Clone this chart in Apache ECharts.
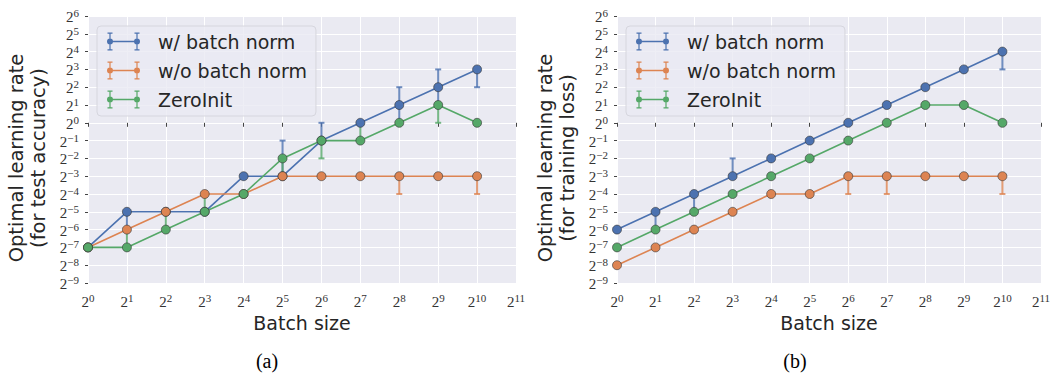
<!DOCTYPE html>
<html><head><meta charset="utf-8">
<script src="https://cdn.jsdelivr.net/npm/echarts@6/dist/echarts.min.js"></script>
<style>html,body{margin:0;padding:0;background:#fff}#c{width:1053px;height:373px}</style>
</head><body><div id="c"></div>
<script>
// x: log2(batch size), y: log2(optimal learning rate)
const batchExp = [0, 1, 2, 3, 4, 5, 6, 7, 8, 9, 10];
const xTickExp = [0, 1, 2, 3, 4, 5, 6, 7, 8, 9, 10, 11];
const yTickExp = [-9, -8, -7, -6, -5, -4, -3, -2, -1, 0, 1, 2, 3, 4, 5, 6];
const seriesNames = ['w/ batch norm', 'w/o batch norm', 'ZeroInit'];
const seriesColors = ['#4C72B0', '#DD8452', '#55A868'];
const panelTitles = ['Optimal learning rate\n(for test accuracy)', 'Optimal learning rate\n(for training loss)'];
const panelCaptions = ['(a)', '(b)'];
const xTitle = 'Batch size';

// (a) test accuracy
const testBN   = [-7, -5, -5, -5, -3, -3, -1, 0, 1, 2, 3];
const testNoBN = [-7, -6, -5, -4, -4, -3, -3, -3, -3, -3, -3];
const testZero = [-7, -7, -6, -5, -4, -2, -1, -1, 0, 1, 0];
// error bars: [batchExp, low, high]
const testBNErr   = [[1, -6, -5], [5, -3, -1], [6, -1, 0], [8, 0, 2], [9, 1, 3], [10, 2, 3]];
const testNoBNErr = [[8, -4, -3], [10, -4, -3]];
const testZeroErr = [[1, -7, -6], [2, -6, -5], [3, -5, -4], [5, -3, -2], [6, -2, -1], [7, -1, 0], [9, 0, 1]];

// (b) training loss
const trainBN   = [-6, -5, -4, -3, -2, -1, 0, 1, 2, 3, 4];
const trainNoBN = [-8, -7, -6, -5, -4, -4, -3, -3, -3, -3, -3];
const trainZero = [-7, -6, -5, -4, -3, -2, -1, 0, 1, 1, 0];
const trainBNErr   = [[1, -6, -5], [2, -5, -4], [3, -3, -2], [10, 3, 4]];
const trainNoBNErr = [[6, -4, -3], [7, -4, -3], [10, -4, -3]];
const trainZeroErr = [];

const panels = [
  { left: 88, legendLeft: 97, titleX: 27.5, capX: 267,
    values: [testBN, testNoBN, testZero], errs: [testBNErr, testNoBNErr, testZeroErr] },
  { left: 617, legendLeft: 626, titleX: 556.5, capX: 795,
    values: [trainBN, trainNoBN, trainZero], errs: [trainBNErr, trainNoBNErr, trainZeroErr] }
];

const TXT = '#262626';
const expStr = v => (v < 0 ? '\u2212' + (-v) : String(v));
const powLabel = v => '{b|2}{s|' + expStr(Math.round(v)) + '}';
const SERIF = '"Liberation Serif", "DejaVu Serif", serif';
const labelRich = {
  b: { fontFamily: SERIF, fontSize: 15, color: '#333', lineHeight: 17, verticalAlign: 'bottom' },
  s: { fontFamily: SERIF, fontSize: 11, color: '#333', verticalAlign: 'top' }
};

const LEGEND_ICON = 'path://' +
  'M3 8.25L30 8.25L30 9.75L3 9.75Z' +
  'M2.4 0L3.6 0L3.6 18L2.4 18Z' +
  'M0.5 0L5.5 0L5.5 1.3L0.5 1.3Z' +
  'M0.5 16.7L5.5 16.7L5.5 18L0.5 18Z' +
  'M29.4 0L30.6 0L30.6 18L29.4 18Z' +
  'M27.5 0L32.5 0L32.5 1.3L27.5 1.3Z' +
  'M27.5 16.7L32.5 16.7L32.5 18L27.5 18Z' +
  'M0 9A3 3 0 1 1 6 9A3 3 0 1 1 0 9Z' +
  'M27 9A3 3 0 1 1 33 9A3 3 0 1 1 27 9Z';

function errRender(params, api) {
  const x = api.value(0), lo = api.value(1), hi = api.value(2);
  const a = api.coord([x, lo]), b = api.coord([x, hi]);
  const c = 3;
  const st = { stroke: api.visual('color'), lineWidth: 2, opacity: 0.8 };
  return { type: 'group', children: [
    { type: 'line', shape: { x1: a[0], y1: a[1], x2: b[0], y2: b[1] }, style: st },
    { type: 'line', shape: { x1: a[0] - c, y1: a[1], x2: a[0] + c, y2: a[1] }, style: st },
    { type: 'line', shape: { x1: b[0] - c, y1: b[1], x2: b[0] + c, y2: b[1] }, style: st }
  ]};
}

const grid = [], xAxis = [], yAxis = [], series = [], legend = [], graphic = [];
panels.forEach((p, pi) => {
  grid.push({ left: p.left, top: 16, width: 428, height: 267, show: true,
    backgroundColor: '#EAEAF2', borderWidth: 0, containLabel: false });
  xAxis.push({ gridIndex: pi, type: 'value', min: xTickExp[0], max: xTickExp[xTickExp.length - 1], interval: 1,
    axisLine: { show: false },
    axisTick: { show: true, length: 4, lineStyle: { color: '#444', width: 1 } },
    splitLine: { show: true, lineStyle: { color: '#ffffff', width: 1 } },
    axisLabel: { formatter: powLabel, margin: 9, rich: labelRich, showMinLabel: true, showMaxLabel: true, hideOverlap: false },
    name: xTitle, nameLocation: 'middle', nameGap: 29,
    nameTextStyle: { fontFamily: 'DejaVu Sans', fontSize: 19, color: TXT } });
  yAxis.push({ gridIndex: pi, type: 'value', min: yTickExp[0], max: yTickExp[yTickExp.length - 1], interval: 1,
    axisLine: { show: false },
    axisTick: { show: true, length: 3, lineStyle: { color: '#444', width: 1 } },
    splitLine: { show: true, lineStyle: { color: '#ffffff', width: 1 } },
    axisLabel: { formatter: powLabel, margin: 9, rich: labelRich, showMinLabel: true, showMaxLabel: true, hideOverlap: false } });
  seriesNames.forEach((nm, si) => {
    series.push({ type: 'custom', name: nm + ' (error)', xAxisIndex: pi, yAxisIndex: pi, z: 2,
      itemStyle: { color: seriesColors[si] },
      encode: { x: 0, y: [1, 2] },
      renderItem: errRender,
      data: p.errs[si] });
  });
  seriesNames.forEach((nm, si) => {
    series.push({ type: 'line', name: nm, xAxisIndex: pi, yAxisIndex: pi, z: 3,
      data: batchExp.map((x, i) => [x, p.values[si][i]]),
      symbol: 'circle', symbolSize: 9, showAllSymbol: true,
      lineStyle: { color: seriesColors[si], width: 1.6 },
      itemStyle: { color: seriesColors[si], borderColor: 'rgba(50,50,50,0.75)', borderWidth: 0.8 },
      emphasis: { disabled: true }, animation: false });
  });
  legend.push({ left: p.legendLeft, top: 26, orient: 'vertical', data: seriesNames,
    icon: LEGEND_ICON, itemWidth: 33, itemHeight: 18, itemGap: 10,
    padding: [6, 9, 7, 10], backgroundColor: 'rgba(234,234,242,0.8)',
    borderColor: '#d6d6de', borderWidth: 1, borderRadius: 4,
    itemStyle: { borderWidth: 0 }, selectedMode: false,
    textStyle: { fontFamily: 'DejaVu Sans', fontSize: 19, color: TXT, padding: [0, 0, 0, 13] } });
  graphic.push({ type: 'text', x: p.titleX, y: 158, rotation: Math.PI / 2,
    style: { text: panelTitles[pi], fontFamily: 'DejaVu Sans', fontSize: 19.5, fill: TXT,
      align: 'center', verticalAlign: 'middle', lineHeight: 22 } });
  graphic.push({ type: 'text', x: p.capX, y: 361,
    style: { text: panelCaptions[pi], fontFamily: 'Liberation Serif', fontSize: 20, lineHeight: 20, fill: '#000',
      align: 'center', verticalAlign: 'middle' } });
});

const chart = echarts.init(document.getElementById('c'), null, { renderer: 'svg' });
chart.setOption({ animation: false, backgroundColor: '#ffffff', grid, xAxis, yAxis, series, legend, graphic });
</script>
</body></html>
